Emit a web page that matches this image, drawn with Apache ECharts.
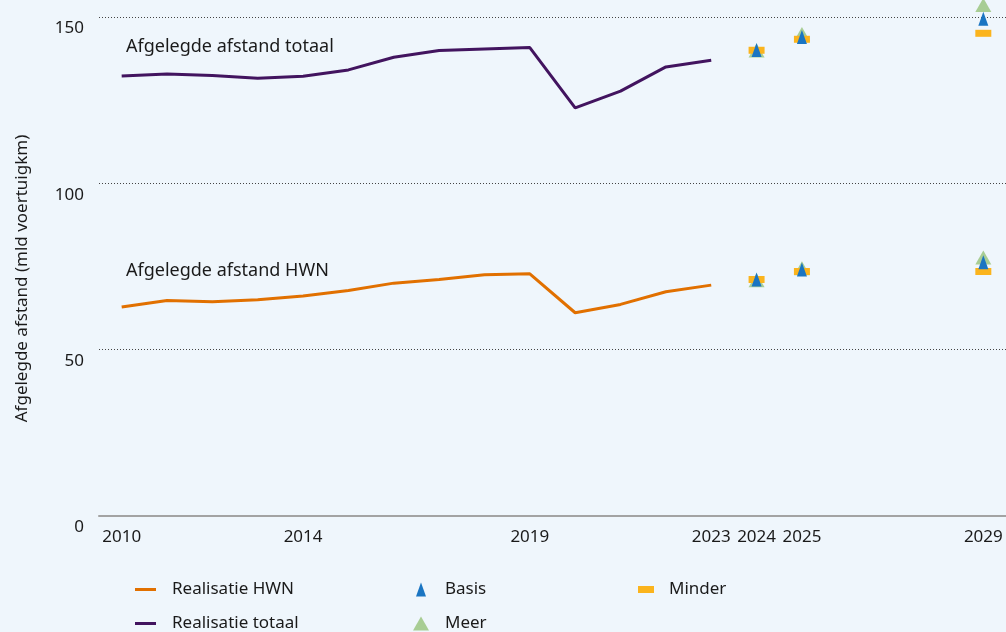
<!DOCTYPE html>
<html>
<head>
<meta charset="utf-8">
<script src="https://cdn.jsdelivr.net/npm/echarts@6/dist/echarts.min.js"></script>
<style>
  html, body { margin: 0; padding: 0; background: #eff6fc; }
  #main { width: 1006px; height: 632px; }
</style>
</head>
<body>
<div id="main"></div>
<script>
// jaren op de x-as
const years = [];
for (let y = 2010; y <= 2029; y++) years.push(String(y));
const shownLabels = ['2010', '2014', '2019', '2023', '2024', '2025', '2029'];

// realisatie 2010-2023
const realYears = ['2010','2011','2012','2013','2014','2015','2016','2017','2018','2019','2020','2021','2022','2023'];
const realTotaal = [132.3, 132.9, 132.4, 131.6, 132.2, 134.1, 137.9, 139.9, 140.4, 140.8, 122.7, 127.7, 135.0, 137.0];
const realHWN = [62.8, 64.8, 64.4, 65.0, 66.1, 67.8, 70.0, 71.1, 72.5, 72.8, 61.1, 63.6, 67.4, 69.4];

// scenario's
const scenYears = ['2024', '2025', '2029'];
const basisTotaal = [140.1, 144.0, 149.5];
const basisHWN = [71.1, 74.1, 76.3];
const meerTotaal = [139.9, 144.9, 153.6];
const meerHWN = [70.9, 74.5, 77.7];
const minderTotaal = [140.0, 143.3, 145.1];
const minderHWN = [71.1, 73.5, 73.5];

const font = 'Noto Sans';

function pairs(xs, ys) {
    return xs.map(function(x, i) { return [x, ys[i]]; });
}

// één legenda per item, zodat de kolommen vast staan
function legendItem(name, left, top, icon, w, h, gap) {
    return {
        orient: 'vertical', left: left, top: top, padding: 0,
        itemWidth: w, itemHeight: h, icon: icon,
        textStyle: { fontSize: 17, color: '#1a1a1a', fontFamily: font, padding: [0, 0, 0, gap] },
        data: [name]
    };
}

let chart = echarts.init(document.getElementById('main'));

let options = {
    backgroundColor: '#eff6fc',
    animation: false,
    textStyle: { fontFamily: font },
    grid: { left: 99, right: 0, top: 17, bottom: 116, containLabel: false },
    legend: [
        legendItem('Realisatie HWN', 135, 581, 'rect', 21, 3, 11),
        legendItem('Realisatie totaal', 135, 615, 'rect', 21, 3, 11),
        legendItem('Basis', 416, 581, 'triangle', 10, 14, 14),
        legendItem('Meer', 413, 615, 'triangle', 16, 14, 11),
        legendItem('Minder', 638, 581, 'rect', 16, 7, 10)
    ],
    xAxis: {
        type: 'category',
        data: years,
        boundaryGap: true,
        axisLine: { lineStyle: { color: '#a3a3a3', width: 2 } },
        axisTick: { show: false },
        axisLabel: {
            interval: 0, margin: 13, fontSize: 17, color: '#1a1a1a',
            formatter: function(v) { return shownLabels.indexOf(v) >= 0 ? v : ''; }
        },
        splitLine: { show: false }
    },
    yAxis: {
        type: 'value',
        min: 0, max: 150, interval: 50,
        name: 'Afgelegde afstand (mld voertuigkm)',
        nameLocation: 'middle',
        nameGap: 68,
        nameTextStyle: { fontSize: 17, color: '#1a1a1a', fontFamily: font, padding: [0, 24, 0, 0] },
        axisLine: { show: false },
        axisTick: { show: false },
        axisLabel: { fontSize: 17, color: '#1a1a1a', margin: 15, verticalAlign: 'top', padding: [3, 0, 0, 0] },
        splitLine: { lineStyle: { color: '#444', type: [1, 2], width: 1 } }
    },
    graphic: [
        { type: 'text', left: 126, top: 38,
          style: { text: 'Afgelegde afstand totaal', fontSize: 18, fill: '#1a1a1a', fontFamily: font } },
        { type: 'text', left: 126, top: 262,
          style: { text: 'Afgelegde afstand HWN', fontSize: 18, fill: '#1a1a1a', fontFamily: font } }
    ],
    series: [
        {
            name: 'Realisatie HWN', type: 'line', data: pairs(realYears, realHWN),
            showSymbol: false, color: '#e17000', lineStyle: { width: 3, color: '#e17000' }
        },
        {
            name: 'Realisatie totaal', type: 'line', data: pairs(realYears, realTotaal),
            showSymbol: false, color: '#42145f', lineStyle: { width: 3, color: '#42145f' }
        },
        {
            name: 'Meer', type: 'scatter', clip: false,
            data: pairs(scenYears, meerTotaal).concat(pairs(scenYears, meerHWN)),
            symbol: 'triangle', symbolSize: [16, 14],
            itemStyle: { color: '#a8cd94', opacity: 1 }
        },
        {
            name: 'Minder', type: 'scatter', clip: false,
            data: pairs(scenYears, minderTotaal).concat(pairs(scenYears, minderHWN)),
            symbol: 'rect', symbolSize: [16, 7],
            itemStyle: { color: '#fbb41d', opacity: 1 }
        },
        {
            name: 'Basis', type: 'scatter', clip: false,
            data: pairs(scenYears, basisTotaal).concat(pairs(scenYears, basisHWN)),
            symbol: 'triangle', symbolSize: [10, 14],
            itemStyle: { color: '#1a75c2', opacity: 1 }
        }
    ]
};

chart.setOption(options);
</script>
</body>
</html>
